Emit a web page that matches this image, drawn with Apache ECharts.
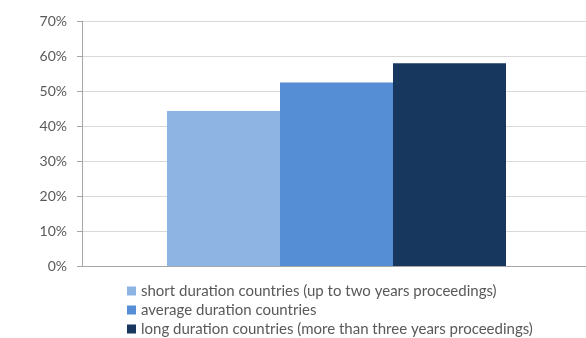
<!DOCTYPE html>
<html>
<head>
<meta charset="utf-8">
<script src="https://cdn.jsdelivr.net/npm/echarts@6/dist/echarts.min.js"></script>
<style>html,body{margin:0;padding:0;background:#fff}#c{width:586px;height:338px}</style>
</head>
<body>
<div id="c"></div>
<script>
const categories = [''];
const seriesNames = [
  'short duration countries (up to two years proceedings)',
  'average duration countries',
  'long duration countries (more than three years proceedings)'
];
const shortValues = [44.3];
const averageValues = [52.4];
const longValues = [57.9];
const seriesColors = ['#8EB4E3', '#558ED5', '#17375E'];
const yTicks = [0, 10, 20, 30, 40, 50, 60, 70];

const values = [shortValues, averageValues, longValues];
const chart = echarts.init(document.getElementById('c'));
chart.setOption({
  animation: false,
  textStyle: { fontFamily: 'Lato' },
  grid: { left: 82, right: -5, top: 21, bottom: 72, outerBoundsMode: 'none' },
  legend: {
    orient: 'vertical',
    left: 122,
    top: 278,
    height: 60,
    itemWidth: 9,
    itemHeight: 9,
    itemGap: 3,
    icon: 'rect',
    textStyle: { color: '#595959', fontSize: 15, lineHeight: 16, fontFamily: 'Lato' },
    data: seriesNames
  },
  xAxis: {
    type: 'category',
    data: categories,
    axisLine: { show: true, lineStyle: { color: '#a6a6a6', width: 1 } },
    axisTick: { show: false },
    axisLabel: { show: false }
  },
  yAxis: {
    type: 'value',
    min: yTicks[0],
    max: yTicks[yTicks.length - 1],
    interval: 10,
    axisLine: { show: true, lineStyle: { color: '#a6a6a6', width: 1 } },
    axisTick: { show: true, length: 5, lineStyle: { color: '#a6a6a6' } },
    splitLine: { show: true, lineStyle: { color: '#d9d9d9', width: 1 } },
    axisLabel: { color: '#595959', fontSize: 14, margin: 15, formatter: '{value}%', fontFamily: 'Lato' }
  },
  series: seriesNames.map((n, i) => ({
    name: n,
    type: 'bar',
    data: values[i],
    barGap: '0%',
    barCategoryGap: '33.4%',
    itemStyle: { color: seriesColors[i] }
  }))
});
</script>
</body>
</html>
